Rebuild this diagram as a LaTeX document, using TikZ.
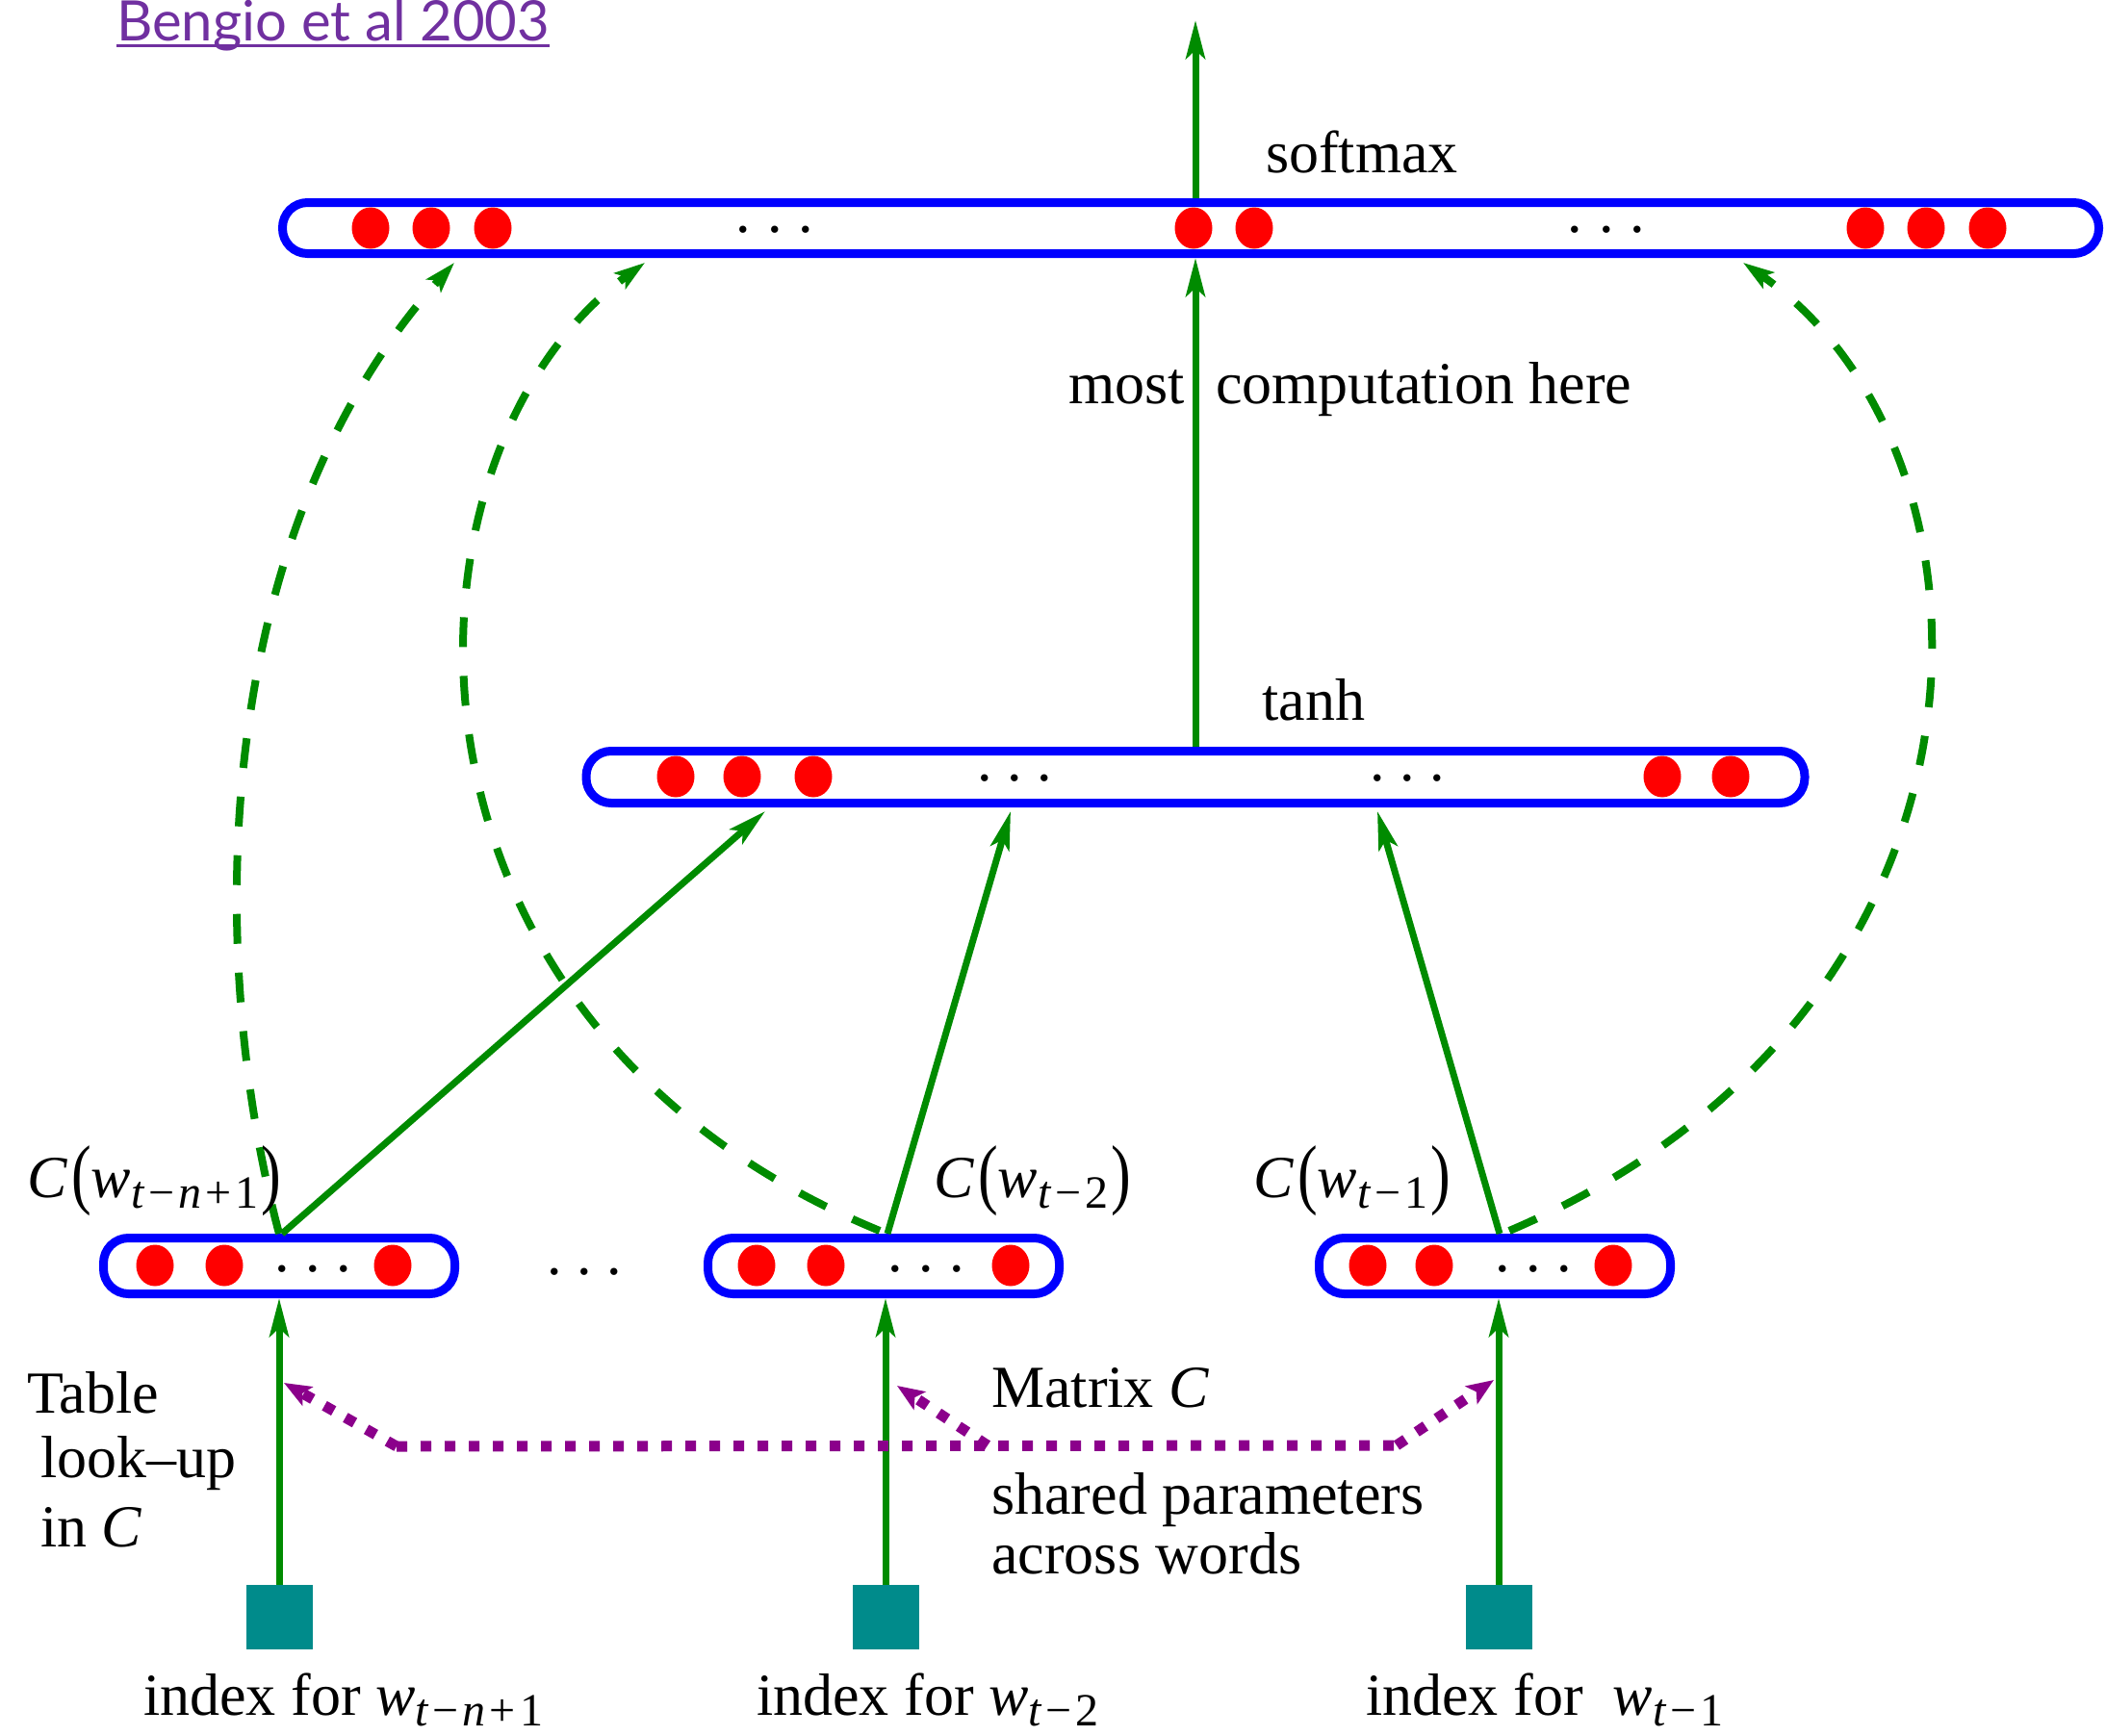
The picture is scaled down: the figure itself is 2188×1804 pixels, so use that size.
\documentclass[tikz,border=0pt]{standalone}
\usepackage{fontspec}
\usepackage{graphicx}
\setmainfont{Liberation Serif}
\newfontfamily\gillfont{Lato}
\usetikzlibrary{arrows.meta,calc}
\definecolor{mygreen}{RGB}{0,139,0}
\definecolor{myblue}{RGB}{0,0,255}
\definecolor{myteal}{RGB}{0,139,139}
\definecolor{mypurple}{RGB}{139,0,139}
\definecolor{linkpurple}{RGB}{112,48,160}
\newcommand\sbs[1]{\raisebox{-11pt}{\fontsize{48}{48}\selectfont #1}}
\newcommand\opsp[1]{\hspace{4pt}#1\hspace{4pt}}
\newcommand\wsub[1]{\textit{w}\sbs{#1}}
\newcommand\bigp[1]{\raisebox{-2pt}{\scalebox{1}[1.3]{#1}}}
\newcommand\myul[1]{\setbox0=\hbox{#1}\rlap{\rule[-7pt]{\wd0}{3.5pt}}\box0}
\begin{document}
\begin{tikzpicture}[x=1pt,y=-1pt,
  layer/.style={draw=myblue, line width=9pt, rounded corners=26pt, fill=white, inner sep=0pt},
  unit/.style={fill=red},
  lbl/.style={font=\fontsize{62}{70}\selectfont, inner sep=0pt},
  dotsnode/.style={font=\fontsize{62}{70}\selectfont, inner sep=0pt, anchor=base},
  idx/.style={fill=myteal, draw=none, minimum width=69pt, minimum height=67pt, inner sep=0pt},
  solidarrow/.style={draw=mygreen, line width=7pt, -{Stealth[length=40pt,width=20pt,inset=9pt]}},
  dasharrow/.style={draw=mygreen, line width=8pt, dash pattern=on 31pt off 30pt, -{Stealth[length=32pt,width=20pt,inset=7pt]}},
  sharedline/.style={draw=mypurple, line width=11pt, dash pattern=on 11pt off 14pt},
  sharedarrow/.style={sharedline, -{Stealth[length=28pt,width=22pt,inset=6pt]}}
]
\useasboundingbox (0,0) rectangle (2188,1804);

% title link
\node[anchor=base west, inner sep=0pt, text=linkpurple, font=\gillfont\fontsize{58}{62}\selectfont] (ref) at (121,42) {\myul{Bengio et al 2003}};

% layers
\node[layer, minimum width=1887pt, minimum height=53pt] (soft) at (1237,237) {};
\node[layer, minimum width=1266pt, minimum height=54pt] (tanh) at (1242,807.5) {};
\node[layer, minimum width=365pt, minimum height=58pt] (b1) at (290,1315.5) {};
\node[layer, minimum width=365pt, minimum height=58pt] (b2) at (918,1315.5) {};
\node[layer, minimum width=365pt, minimum height=58pt] (b3) at (1553,1315.5) {};

% units
\foreach \x in {385,448,512,1240,1303,1938,2001,2065}
  \fill[unit] (\x,237) ellipse [x radius=19.5, y radius=21.5];
\foreach \x in {702,771,845,1727,1798}
  \fill[unit] (\x,807) ellipse [x radius=19.5, y radius=21.5];
\foreach \x in {161,233,408,786,858,1050,1421,1490,1676}
  \fill[unit] (\x,1315) ellipse [x radius=19.5, y radius=21.5];

% dots
\node[dotsnode] (d1) at (805,241) {.\kern17pt.\kern17pt.};
\node[dotsnode] (d2) at (1669,241) {.\kern17pt.\kern17pt.};
\node[dotsnode] (d3) at (1054,811) {.\kern15.5pt.\kern15.5pt.};
\node[dotsnode] (d4) at (1462,811) {.\kern15.5pt.\kern15.5pt.};
\node[dotsnode] (d5) at (325,1321) {.\kern16.5pt.\kern16.5pt.};
\node[dotsnode] (d6) at (962,1321) {.\kern16.5pt.\kern16.5pt.};
\node[dotsnode] (d7) at (1593,1321) {.\kern16.5pt.\kern16.5pt.};
\node[dotsnode] (d8) at (607,1324) {.\kern15.5pt.\kern15.5pt.};

% index squares
\node[idx] (s1) at (290,1680.5) {};
\node[idx] (s2) at (920,1680.5) {};
\node[idx] (s3) at (1557,1680.5) {};

% coordinates
\coordinate (out) at (1242,21);
\coordinate (ta) at (795,843);
\coordinate (tb) at (1050,843);
\coordinate (tc) at (1431,843);
\coordinate (sa) at (472,273);
\coordinate (sb) at (670,273);
\coordinate (sc) at (1811,273);

% dashed direct connections
\draw[dasharrow] (b1.north -| s1.north) .. controls (215,1000) and (215,560) .. (sa);
\draw[dasharrow] (914,1279) .. controls (380,1060) and (400,470) .. (sb);
\draw[dasharrow] (1568,1279) .. controls (2105,1050) and (2095,470) .. (sc);

% solid arrows
\draw[solidarrow] (soft.north -| tanh.north) -- (out);
\draw[solidarrow] (tanh.north) -- (tanh.north |- soft.south);
\draw[solidarrow] (b1.north -| 293,0) -- (ta);
\draw[solidarrow] (b2.north -| 922,0) -- (tb);
\draw[solidarrow] (b3.north -| 1558,0) -- (tc);
\draw[solidarrow] (s1.north) -- (s1.north |- b1.south);
\draw[solidarrow] (s2.north) -- (s2.north |- b2.south);
\draw[solidarrow] (s3.north) -- (s3.north |- b3.south);

% shared parameters
\coordinate (m1) at (412,1503);
\coordinate (m2) at (1026,1502);
\coordinate (m3) at (1451,1502);
\coordinate (p1) at (295,1437);
\coordinate (p2) at (932,1440);
\coordinate (p3) at (1552,1434);
\draw[sharedline] (m1) -- (m3);
\draw[sharedarrow] (m1) -- (p1);
\draw[sharedarrow] (m2) -- (p2);
\draw[sharedarrow] (m3) -- (p3);

% labels
\node[lbl, anchor=base] (lsoft) at (1415,179) {softmax};
\node[lbl, anchor=base] (ltanh) at (1365,748) {tanh};
\node[lbl, anchor=base east] (lmost) at (1231,419) {most};
\node[lbl, anchor=base west] (lcomp) at (1263,419) {computation here};
\node[lbl, anchor=base west] (lc1) at (28,1244) {\textit{C}\kern4pt\bigp{(}\wsub{\textit{t}\opsp{−}\textit{n}\opsp{+}1}\kern3pt\bigp{)}};
\node[lbl, anchor=base west] (lc2) at (970,1244) {\textit{C}\kern4pt\bigp{(}\wsub{\textit{t}\opsp{−}2}\kern3pt\bigp{)}};
\node[lbl, anchor=base west] (lc3) at (1302,1244) {\textit{C}\kern4pt\bigp{(}\wsub{\textit{t}\opsp{−}1}\kern3pt\bigp{)}};
\node[lbl, anchor=base west] (lt1) at (28,1468) {Table};
\node[lbl, anchor=base west] (lt2) at (42,1535) {look–up};
\node[lbl, anchor=base west] (lt3) at (42,1607) {in \textit{C}};
\node[lbl, anchor=base west] (lmat) at (1030,1462) {Matrix \textit{C}};
\node[lbl, anchor=base west] (lsh1) at (1030,1573) {shared parameters};
\node[lbl, anchor=base west] (lsh2) at (1030,1635) {across words};
\node[lbl, anchor=base west] (li1) at (149,1782) {index for \wsub{\textit{t}\opsp{−}\textit{n}\opsp{+}1}};
\node[lbl, anchor=base west] (li2) at (786,1782) {index for \wsub{\textit{t}\opsp{−}2}};
\node[lbl, anchor=base west] (li3) at (1419,1782) {index for \ \wsub{\textit{t}\opsp{−}1}};
\end{tikzpicture}
\end{document}
